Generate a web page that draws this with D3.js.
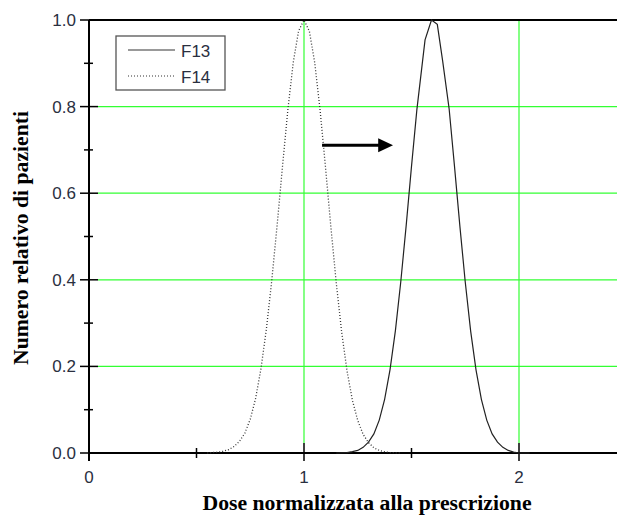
<!DOCTYPE html>
<html>
<head>
<meta charset="utf-8">
<script src="https://cdn.jsdelivr.net/npm/d3@7"></script>
<style>
  body { margin: 0; background: #fff; }
  text { font-family: "Liberation Sans", Arial, sans-serif; }
</style>
</head>
<body>
<svg id="chart" width="617" height="515"></svg>
<script>
	// data
	var doseF14 = [0.55, 0.60, 0.625, 0.65, 0.675, 0.70, 0.725, 0.75, 0.775, 0.80, 0.825, 0.85, 0.875, 0.90, 0.925, 0.95, 0.975, 1.00,
		1.025, 1.05, 1.075, 1.10, 1.125, 1.15, 1.175, 1.20, 1.225, 1.25, 1.275, 1.30, 1.325, 1.35, 1.375, 1.40, 1.45];
	var valF14 = [0.000, 0.002, 0.004, 0.008, 0.015, 0.027, 0.046, 0.078, 0.126, 0.195, 0.286, 0.398, 0.526, 0.662, 0.793, 0.902, 0.975, 1.000,
		0.974, 0.901, 0.791, 0.660, 0.522, 0.393, 0.280, 0.190, 0.122, 0.075, 0.043, 0.024, 0.012, 0.006, 0.003, 0.001, 0.000];

	var doseF13 = [1.15, 1.20, 1.225, 1.25, 1.275, 1.30, 1.325, 1.35, 1.375, 1.40, 1.425, 1.45, 1.475, 1.50, 1.525, 1.563, 1.593, 1.62,
		1.645, 1.675, 1.70, 1.725, 1.75, 1.775, 1.80, 1.825, 1.85, 1.875, 1.90, 1.925, 1.95, 1.975, 2.00, 2.05];
	var valF13 = [0.000, 0.001, 0.003, 0.006, 0.013, 0.025, 0.044, 0.076, 0.124, 0.192, 0.282, 0.395, 0.524, 0.662, 0.793, 0.954, 1.000, 0.990,
		0.905, 0.795, 0.662, 0.524, 0.395, 0.282, 0.192, 0.124, 0.076, 0.044, 0.025, 0.013, 0.006, 0.002, 0.000, 0.000];

	var yTicks = [0, 0.2, 0.4, 0.6, 0.8, 1.0];
	var yMinor = [0.1, 0.3, 0.5, 0.7, 0.9];
	var xTicks = [0, 1, 2];
	var xMinor = [0.5, 1.5];
	var gridY = [0.2, 0.4, 0.6, 0.8];
	var gridX = [1, 2];

	var series = [
		{name: 'F13', dose: doseF13, val: valF13, dash: null},
		{name: 'F14', dose: doseF14, val: valF14, dash: '1,2'}
	];

	var xTitle = 'Dose normalizzata alla prescrizione';
	var yTitle = 'Numero relativo di pazienti';

	(function(){
		'use strict';
		var left = 89, plotTop = 20, bottom = 453, plotRight = 626.5;
		var svg = d3.select('#chart');

		var x = d3.scaleLinear().domain([0, 2.5]).range([left, plotRight]);
		var y = d3.scaleLinear().domain([0, 1]).range([bottom, plotTop]);

		var green = '#33ff33';
		var labelColor = '#2a2f3f';

		// grid
		svg.append('g').selectAll('line').data(gridY).enter().append('line')
			.attr('x1', left + 9).attr('x2', 617)
			.attr('y1', (d) => y(d)).attr('y2', (d) => y(d))
			.style('stroke', green).style('stroke-width', 1.2);
		svg.append('g').selectAll('line').data(gridX).enter().append('line')
			.attr('x1', (d) => x(d)).attr('x2', (d) => x(d))
			.attr('y1', plotTop).attr('y2', bottom - 10)
			.style('stroke', green).style('stroke-width', 1.2);

		// frame
		svg.append('line').attr('x1', left).attr('x2', 617).attr('y1', plotTop).attr('y2', plotTop)
			.style('stroke', '#000').style('stroke-width', 2);
		svg.append('line').attr('x1', left).attr('x2', 617).attr('y1', bottom).attr('y2', bottom)
			.style('stroke', '#000').style('stroke-width', 2);
		svg.append('line').attr('x1', left).attr('x2', left).attr('y1', plotTop).attr('y2', bottom + 8)
			.style('stroke', '#000').style('stroke-width', 2);

		// y ticks
		var yAx = svg.append('g');
		yAx.selectAll('.maj').data(yTicks).enter().append('line')
			.attr('x1', left - 9)
			.attr('x2', (d) => (d === 0 || d === 1) ? left : left + 9)
			.attr('y1', (d) => y(d)).attr('y2', (d) => y(d))
			.style('stroke', '#000').style('stroke-width', 1.5);
		yAx.selectAll('.min').data(yMinor).enter().append('line')
			.attr('x1', left - 5).attr('x2', left + 4)
			.attr('y1', (d) => y(d)).attr('y2', (d) => y(d))
			.style('stroke', '#000').style('stroke-width', 1.5);
		yAx.selectAll('text').data(yTicks).enter().append('text')
			.attr('x', left - 13).attr('y', (d) => y(d) + 6)
			.style('text-anchor', 'end').style('font-size', '17px').style('fill', labelColor)
			.text((d) => d3.format('.1f')(d));

		// x ticks
		var xAx = svg.append('g');
		xAx.selectAll('.maj').data(xTicks).enter().append('line')
			.attr('x1', (d) => x(d)).attr('x2', (d) => x(d))
			.attr('y1', (d) => d === 0 ? bottom : bottom - 10).attr('y2', bottom + 8)
			.style('stroke', '#000').style('stroke-width', 1.5);
		xAx.selectAll('.min').data(xMinor).enter().append('line')
			.attr('x1', (d) => x(d)).attr('x2', (d) => x(d))
			.attr('y1', bottom - 5).attr('y2', bottom + 5)
			.style('stroke', '#000').style('stroke-width', 1.5);
		xAx.selectAll('text').data(xTicks).enter().append('text')
			.attr('x', (d) => x(d)).attr('y', bottom + 30)
			.style('text-anchor', 'middle').style('font-size', '17px').style('fill', labelColor)
			.text((d) => d);

		// curves
		var line = d3.line().x((d) => x(d[0])).y((d) => y(d[1]));
		series.forEach(function(s){
			svg.append('path')
				.datum(d3.zip(s.dose, s.val))
				.attr('d', line)
				.style('fill', 'none')
				.style('stroke', s.dash ? '#333' : '#222')
				.style('stroke-width', s.dash ? 1.3 : 1.2)
				.style('stroke-dasharray', s.dash);
		});

		// arrow
		var arrowY = 0.711;
		svg.append('line')
			.attr('x1', x(1.084)).attr('x2', x(1.36))
			.attr('y1', y(arrowY)).attr('y2', y(arrowY))
			.style('stroke', '#000').style('stroke-width', 3);
		svg.append('path')
			.attr('d', 'M' + x(1.345) + ',' + (y(arrowY) - 7) + 'L' + x(1.414) + ',' + y(arrowY) + 'L' + x(1.345) + ',' + (y(arrowY) + 7) + 'Z')
			.style('fill', '#000');

		// legend
		var lg = svg.append('g').attr('transform', 'translate(116,36)');
		lg.append('rect').attr('width', 109).attr('height', 54)
			.style('fill', '#fff').style('stroke', '#555').style('stroke-width', 1.3);
		lg.selectAll('g').data(series).enter().append('g')
			.each(function(d, i){
				var g = d3.select(this).attr('transform', 'translate(0,' + (14 + i * 26) + ')');
				g.append('line').attr('x1', 12).attr('x2', 59)
					.style('stroke', d.dash ? '#333' : '#777').style('stroke-width', d.dash ? 1.2 : 1.5)
					.style('stroke-dasharray', d.dash);
				g.append('text').attr('x', 65).attr('y', 7)
					.style('font-size', '17px').style('fill', labelColor)
					.text(d.name);
			});

		// titles
		svg.append('text').attr('x', 367).attr('y', 510)
			.style('text-anchor', 'middle').style('font-family', '"Liberation Serif", "Times New Roman", serif')
			.style('font-weight', 'bold').style('font-size', '21.7px')
			.text(xTitle);
		svg.append('text').attr('transform', 'translate(28,238) rotate(-90)')
			.style('text-anchor', 'middle').style('font-family', '"Liberation Serif", "Times New Roman", serif')
			.style('font-weight', 'bold').style('font-size', '21.7px')
			.text(yTitle);
	})();
</script>
</body>
</html>
